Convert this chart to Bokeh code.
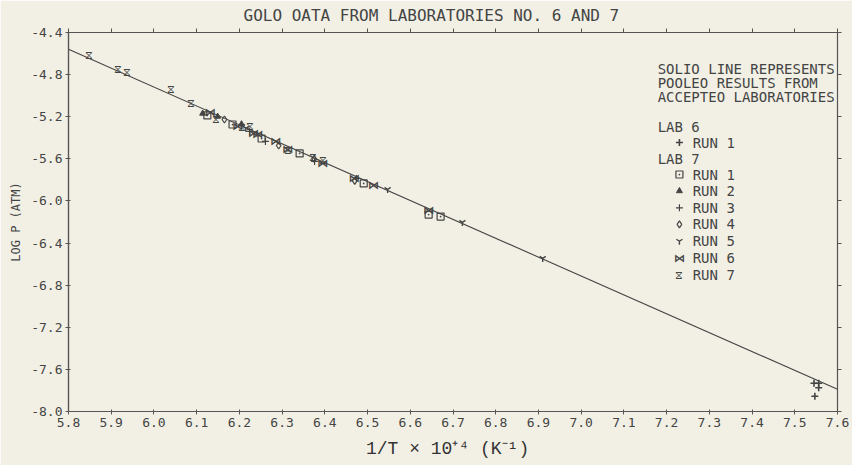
from bokeh.plotting import figure
from bokeh.models import (Range1d, LinearAxis, FixedTicker, NumeralTickFormatter,
                          CustomLabelingPolicy)
from bokeh.core.properties import value
from bokeh.embed import file_html
from bokeh.resources import INLINE

# ---- data -------------------------------------------------------------
title_text = "GOLO OATA FROM LABORATORIES NO. 6 AND 7"
x_label = "1/T \u00d7 10\u207a\u2074  (K\u207b\u00b9)"
y_label = "LOG P (ATM)"

x_ticks = [5.8, 5.9, 6.0, 6.1, 6.2, 6.3, 6.4, 6.5, 6.6, 6.7, 6.8, 6.9,
           7.0, 7.1, 7.2, 7.3, 7.4, 7.5, 7.6]
y_ticks = [-4.4, -4.8, -5.2, -5.6, -6.0, -6.4, -6.8, -7.2, -7.6, -8.0]

# pooled fit from accepted laboratories: log P = A - B * (1/T x 1e4)
fit_A = 5.845
fit_B = 1.794
fit_x = [5.8, 7.6]

lab6_run1_x = [7.545, 7.556, 7.556, 7.547]
lab6_run1_y = [-7.731, -7.731, -7.775, -7.855]

lab7_run1_x = [6.125, 6.184, 6.252, 6.341, 6.491, 6.643, 6.671]
lab7_run1_y = [-5.188, -5.274, -5.407, -5.549, -5.834, -6.129, -6.148]

lab7_run2_x = [6.114, 6.149, 6.205]
lab7_run2_y = [-5.169, -5.198, -5.270]

lab7_run3_x = [6.224, 6.261, 6.376, 6.474]
lab7_run3_y = [-5.340, -5.435, -5.625, -5.787]

lab7_run4_x = [6.165, 6.292, 6.375, 6.470]
lab7_run4_y = [-5.226, -5.473, -5.600, -5.810]

lab7_run5_x = [6.215, 6.547, 6.722, 6.910]
lab7_run5_y = [-5.310, -5.891, -6.204, -6.546]

lab7_run6_x = [6.132, 6.196, 6.233, 6.243, 6.285, 6.313, 6.395, 6.469, 6.514, 6.643]
lab7_run6_y = [-5.160, -5.293, -5.360, -5.370, -5.435, -5.511, -5.644, -5.787, -5.853, -6.090]

lab7_run7_x = [5.847, 5.917, 5.938, 6.041, 6.086, 6.146, 6.207, 6.224, 6.313, 6.373, 6.395]
lab7_run7_y = [-4.618, -4.751, -4.780, -4.941, -5.074, -5.226, -5.302, -5.293, -5.520, -5.587, -5.620]

note_lines = ["SOLIO LINE REPRESENTS", "POOLEO RESULTS FROM", "ACCEPTEO LABORATORIES"]

# ---- styling ----------------------------------------------------------
BG = "#f2f0e5"
INK = "#444444"
AXIS = "#555555"
PLOTTER = "DejaVu Sans Mono"
KEY_SIZE = "14px"

p = figure(frame_width=769, frame_height=379,
           x_range=Range1d(5.8, 7.6), y_range=Range1d(-8.0, -4.4),
           output_backend="svg", toolbar_location=None,
           min_border_left=68, min_border_right=15,
           min_border_top=32, min_border_bottom=54,
           background_fill_color=BG, border_fill_color=BG,
           outline_line_color=AXIS, outline_line_width=1.2)

p.title.text = title_text
p.title.align = "left"
p.title.offset = 175
p.title.text_font = PLOTTER
p.title.text_font_size = "16px"
p.title.text_font_style = "normal"
p.title.text_color = INK
p.title.standoff = 7

p.xgrid.visible = False
p.ygrid.visible = False

fmt = NumeralTickFormatter(format="0.0")

xa = p.xaxis[0]
xa.ticker = FixedTicker(ticks=x_ticks)
xa.formatter = fmt
xa.axis_label = x_label
xa.axis_label_text_font = "Liberation Mono"
xa.axis_label_text_font_size = "18px"
xa.axis_label_text_font_style = "normal"
xa.axis_label_text_color = "#333333"
xa.axis_label_standoff = 9

ya = p.yaxis[0]
ya.ticker = FixedTicker(ticks=y_ticks)
ya.formatter = fmt
ya.axis_label = y_label
ya.axis_label_text_font = PLOTTER
ya.axis_label_text_font_size = "12px"
ya.axis_label_text_font_style = "normal"
ya.axis_label_text_color = INK
ya.axis_label_standoff = 5

for ax in (xa, ya):
    ax.major_label_text_font = PLOTTER
    ax.major_label_text_font_size = "13px"
    ax.major_label_text_color = INK
    ax.axis_line_color = AXIS
    ax.axis_line_width = 1.2
    ax.major_tick_line_color = AXIS
    ax.major_tick_out = 3
    ax.major_tick_in = 2
    ax.minor_tick_line_color = None
    ax.major_label_standoff = 3

# tick-only frame edges on top and right
no_labels = CustomLabelingPolicy(code="for (const i of indices) indices.unset(i)")
top = LinearAxis(ticker=FixedTicker(ticks=x_ticks), major_label_text_font_size="0px",
                 major_label_policy=no_labels,
                 axis_line_color=AXIS, major_tick_line_color=AXIS,
                 major_tick_out=4, major_tick_in=0, minor_tick_line_color=None,
                 major_label_standoff=0)
right = LinearAxis(ticker=FixedTicker(ticks=y_ticks), major_label_text_font_size="0px",
                   major_label_policy=no_labels,
                   axis_line_color=AXIS, major_tick_line_color=AXIS,
                   major_tick_out=4, major_tick_in=0, minor_tick_line_color=None,
                   major_label_standoff=0)
p.add_layout(top, "above")
p.add_layout(right, "right")

# ---- pooled line ------------------------------------------------------
fit_y = [fit_A - fit_B * x for x in fit_x]
p.line(fit_x, fit_y, line_color="#444444", line_width=1.1)

# ---- data points ------------------------------------------------------
def draw_marker(kind, xs, ys):
    if kind == "lab6":
        p.scatter(xs, ys, marker="cross", size=7, line_color=INK, line_width=1.6)
    elif kind == "run1":
        p.scatter(xs, ys, marker="square_dot", size=7, line_color=INK,
                  fill_color=None, line_width=1.2)
    elif kind == "run2":
        p.scatter(xs, ys, marker="triangle", size=6, line_color=INK, fill_color=INK)
    elif kind == "run3":
        p.scatter(xs, ys, marker="cross", size=7, line_color=INK, line_width=1.2)
    elif kind == "run4":
        p.scatter(xs, ys, marker="diamond", size=7, line_color=INK,
                  fill_color=None, line_width=1.2)
    elif kind == "run5":
        p.scatter(xs, ys, marker="y", size=7, line_color=INK, line_width=1.4)
    elif kind == "run6":
        p.text(xs, ys, text=["\u22c8"] * len(xs), text_font=value("DejaVu Sans"),
               text_font_size="11px", text_color=INK, text_align="center",
               text_baseline="middle", text_font_style="bold")
    elif kind == "run7":
        p.text(xs, ys, text=["\u29d6"] * len(xs), text_font=value("DejaVu Sans"),
               text_font_size="11px", text_color=INK, text_align="center",
               text_baseline="middle")

series = [
    ("lab6", lab6_run1_x, lab6_run1_y),
    ("run1", lab7_run1_x, lab7_run1_y),
    ("run2", lab7_run2_x, lab7_run2_y),
    ("run3", lab7_run3_x, lab7_run3_y),
    ("run4", lab7_run4_x, lab7_run4_y),
    ("run5", lab7_run5_x, lab7_run5_y),
    ("run6", lab7_run6_x, lab7_run6_y),
    ("run7", lab7_run7_x, lab7_run7_y),
]
for kind, xs, ys in series:
    draw_marker(kind, xs, ys)

# ---- key (plotter-style annotation block) -----------------------------
key_header_x = 7.179
key_marker_x = 7.230
key_text_x = 7.261
note_y = [-4.742, -4.875, -5.008]
p.text([key_header_x] * 3, note_y, text=note_lines, text_font=value(PLOTTER),
       text_font_size=KEY_SIZE, text_color=INK, text_baseline="middle")

key_rows = [
    ("LAB 6", None, -5.293),
    ("RUN 1", "lab6", -5.445),
    ("LAB 7", None, -5.597),
    ("RUN 1", "run1", -5.749),
    ("RUN 2", "run2", -5.905),
    ("RUN 3", "run3", -6.065),
    ("RUN 4", "run4", -6.222),
    ("RUN 5", "run5", -6.383),
    ("RUN 6", "run6", -6.545),
    ("RUN 7", "run7", -6.705),
]
for label, kind, yk in key_rows:
    if kind is None:
        p.text([key_header_x], [yk], text=[label], text_font=value(PLOTTER),
               text_font_size=KEY_SIZE, text_color=INK, text_baseline="middle")
    else:
        draw_marker(kind, [key_marker_x], [yk])
        p.text([key_text_x], [yk], text=[label], text_font=value(PLOTTER),
               text_font_size=KEY_SIZE, text_color=INK, text_baseline="middle")

open("out.html", "w").write(file_html(p, INLINE))
